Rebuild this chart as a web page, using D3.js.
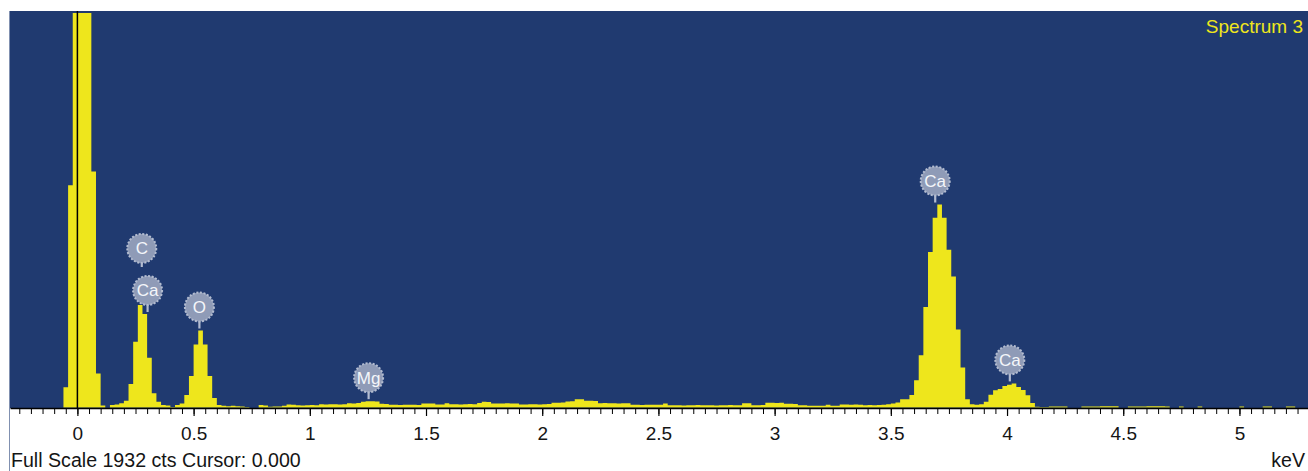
<!DOCTYPE html>
<html>
<head>
<meta charset="utf-8">
<script src="https://cdn.jsdelivr.net/npm/d3@7/dist/d3.min.js"></script>
<style>
  html, body { margin: 0; padding: 0; background: #ffffff; }
  svg { display: block; }
  text { font-family: "Liberation Sans", Arial, Helvetica, sans-serif; }
</style>
</head>
<body>
<svg id="chart" width="1308" height="471"></svg>
<script>
// ---------------- DATA ----------------
const spectrumName = "Spectrum 3";
const fullScaleCounts = 1932;
const cursorKeV = 0.000;
const channelStartKeV = -0.10;   // energy of first channel's lower edge
const channelWidthKeV = 0.02;    // keV per channel
// counts per channel, 10 channels (0.2 keV) per row
const counts = [
  0, 0, 99, 1088, 2600, 3400, 3500, 2900, 1156, 166,        // -0.10
  10, 0, 12, 15, 21, 33, 115, 322, 502, 458,                // 0.10
  244, 70, 28, 12, 10, 3, 12, 20, 61, 154,                  // 0.30
  308, 377, 308, 154, 46, 12, 8, 6, 8, 6,                   // 0.50
  5, 3, 0, 0, 12, 10, 4, 5, 5, 8,                           // 0.70
  15, 14, 11, 10, 11, 12, 11, 16, 15, 16,                   // 0.90
  16, 15, 16, 21, 20, 22, 28, 31, 31, 29,                   // 1.10
  18, 17, 13, 13, 12, 13, 14, 13, 12, 20,                   // 1.30
  20, 19, 15, 15, 21, 16, 16, 15, 16, 17,                   // 1.50
  16, 22, 28, 27, 20, 20, 19, 21, 20, 19,                   // 1.70
  15, 15, 16, 16, 15, 16, 17, 23, 23, 24,                   // 1.90
  29, 30, 41, 40, 33, 33, 32, 21, 22, 21,                   // 2.10
  21, 20, 21, 21, 13, 13, 12, 13, 13, 13,                   // 2.30
  13, 20, 11, 11, 11, 10, 11, 11, 12, 11,                   // 2.50
  11, 11, 10, 11, 11, 12, 11, 11, 21, 21,                   // 2.70
  11, 11, 12, 23, 23, 22, 23, 18, 18, 17,                   // 2.90
  11, 11, 8, 8, 8, 9, 13, 8, 8, 15,                         // 3.10
  15, 14, 15, 14, 11, 12, 11, 12, 13, 16,                   // 3.30
  20, 24, 40, 40, 61, 134, 256, 492, 761, 929,              // 3.50
  994, 929, 773, 642, 382, 196, 40, 16, 14, 16,             // 3.70
  28, 62, 85, 90, 105, 112, 118, 100, 86, 60,               // 3.90
  22, 4, 3, 3, 5, 5, 5, 5, 0, 0,                            // 4.10
  0, 5, 5, 5, 5, 6, 6, 6, 6, 0,                             // 4.30
  0, 5, 5, 5, 5, 6, 6, 6, 6, 5,                             // 4.50
  0, 0, 5, 0, 0, 0, 5, 0, 0, 0,                             // 4.70
  0, 0, 0, 0, 0, 5, 0, 0, 0, 0,                             // 4.90
  5, 5, 0, 0, 0, 5, 5, 0, 0, 0                              // 5.10
];
const majorTickValues = [0, 0.5, 1, 1.5, 2, 2.5, 3, 3.5, 4, 4.5, 5];
const majorTickLabels = ["0", "0.5", "1", "1.5", "2", "2.5", "3", "3.5", "4", "4.5", "5"];
const minorTickStepKeV = 0.05;
const labelElements = ["C", "Ca", "O", "Mg", "Ca", "Ca"];
const labelEnergies = [0.277, 0.302, 0.525, 1.253, 3.691, 4.012];
const labelStackLevel = [1, 0, 0, 0, 0, 0];
const axisUnit = "keV";

// ---------------- LAYOUT / STYLE ----------------
const W = 1308, H = 471;
const plot = { left: 10, right: 1308, top: 11, bottom: 408 };
const colors = {
  bg: "#203a70",
  bar: "#eee61c",
  label: "#eee61c",
  badge: "#8f9bb7",
  badgeEdge: "#b3bcd0",
  badgeText: "#f4f6fa",
  axis: "#000000",
  text: "#151515",
  frame: "#8090b0"
};

const svg = d3.select("#chart");

const x = d3.scaleLinear().domain([-0.29, 5.295]).range([plot.left, plot.right]);
const y = d3.scaleLinear().domain([0, fullScaleCounts]).range([407.5, 13]).clamp(true);

// background panel
svg.append("rect")
  .attr("x", plot.left - 1).attr("y", plot.top)
  .attr("width", plot.right - plot.left + 1).attr("height", plot.bottom - plot.top)
  .attr("fill", colors.bg);

// left frame line
svg.append("line")
  .attr("x1", plot.left - 0.5).attr("x2", plot.left - 0.5)
  .attr("y1", plot.top).attr("y2", H)
  .attr("stroke", colors.frame).attr("stroke-width", 1);

svg.append("clipPath").attr("id", "clip")
  .append("rect")
  .attr("x", plot.left).attr("y", plot.top)
  .attr("width", plot.right - plot.left).attr("height", plot.bottom - plot.top);

const channels = counts.map((c, i) => ({
  e0: channelStartKeV + i * channelWidthKeV,
  e1: channelStartKeV + (i + 1) * channelWidthKeV,
  c: c
}));
// step outline: each channel starts at e0; close with the last channel's upper edge
const stepPoints = channels.map(d => ({ e: d.e0, c: d.c }))
  .concat([{ e: channels[channels.length - 1].e1, c: 0 }]);

const g = svg.append("g").attr("clip-path", "url(#clip)");
const area = d3.area()
  .curve(d3.curveStepAfter)
  .x(d => x(d.e))
  .y0(y(0))
  .y1(d => y(d.c));
g.append("path")
  .datum(stepPoints)
  .attr("class", "spectrum")
  .attr("d", area)
  .attr("fill", colors.bar);

// cursor line
g.append("line")
  .attr("x1", x(cursorKeV)).attr("x2", x(cursorKeV))
  .attr("y1", plot.top).attr("y2", plot.bottom)
  .attr("stroke", "#000").attr("stroke-width", 1.5);

// spectrum name
svg.append("text")
  .attr("x", 1303).attr("y", 33)
  .attr("text-anchor", "end")
  .attr("font-size", 19)
  .attr("fill", colors.label)
  .text(spectrumName);

// axes
const minorTicks = d3.range(-0.25, 5.2501, minorTickStepKeV);
const axisMinor = d3.axisBottom(x).tickValues(minorTicks).tickSize(6).tickSizeOuter(0).tickFormat("");
const axG1 = svg.append("g").attr("transform", `translate(0,${plot.bottom})`).call(axisMinor);
axG1.select(".domain").attr("stroke", colors.axis).attr("stroke-width", 1.3);
axG1.selectAll(".tick line").attr("stroke", colors.axis).attr("stroke-width", 1);

const axisMajor = d3.axisBottom(x).tickValues(majorTickValues).tickSize(8).tickSizeOuter(0)
  .tickPadding(15)
  .tickFormat((d, i) => majorTickLabels[i]);
const axG2 = svg.append("g").attr("transform", `translate(0,${plot.bottom})`).call(axisMajor);
axG2.select(".domain").remove();
axG2.selectAll(".tick line").attr("stroke", colors.axis).attr("stroke-width", 1.2);
axG2.selectAll(".tick text")
  .attr("font-family", "'Liberation Sans', Arial, sans-serif")
  .attr("font-size", 19)
  .attr("fill", colors.text)
  .attr("dy", null)
  .attr("y", 32);

// bottom texts
svg.append("text")
  .attr("x", 11).attr("y", 467)
  .attr("font-size", 19.6)
  .attr("fill", colors.text)
  .text(`Full Scale ${fullScaleCounts} cts Cursor: ${cursorKeV.toFixed(3)}`);
svg.append("text")
  .attr("x", 1305).attr("y", 467)
  .attr("text-anchor", "end")
  .attr("font-size", 19.6)
  .attr("fill", colors.text)
  .text(axisUnit);

// peak labels
const R = 14.5;
function localMax(e) {
  const near = channels.filter(d => Math.abs((d.e0 + d.e1) / 2 - e) <= 0.031);
  return d3.max(near, d => d.c);
}
const labelData = labelElements.map((el, i) => {
  const top = y(localMax(labelEnergies[i]));
  const baseCy = top - 2 - 7 - R;
  return {
    el, e: labelEnergies[i], level: labelStackLevel[i],
    stemBottom: labelStackLevel[i] === 0 ? top - 2 : baseCy - (33 * labelStackLevel[i]) + 33 - R,
    cy: baseCy - 33 * labelStackLevel[i]
  };
});
const lg = svg.append("g");
labelData.forEach(d => {
  const cx = x(d.e);
  lg.append("line")
    .attr("x1", cx).attr("x2", cx)
    .attr("y1", d.cy + R - 1).attr("y2", d.stemBottom)
    .attr("stroke", colors.badgeEdge).attr("stroke-width", 2.2);
  lg.append("circle")
    .attr("cx", cx).attr("cy", d.cy).attr("r", R)
    .attr("fill", colors.badge)
    .attr("stroke", colors.badgeEdge)
    .attr("stroke-width", 2)
    .attr("stroke-dasharray", "2,1.6");
  lg.append("text")
    .attr("x", cx).attr("y", d.cy + 6)
    .attr("text-anchor", "middle")
    .attr("font-size", 17)
    .attr("fill", colors.badgeText)
    .text(d.el);
});
</script>
</body>
</html>
